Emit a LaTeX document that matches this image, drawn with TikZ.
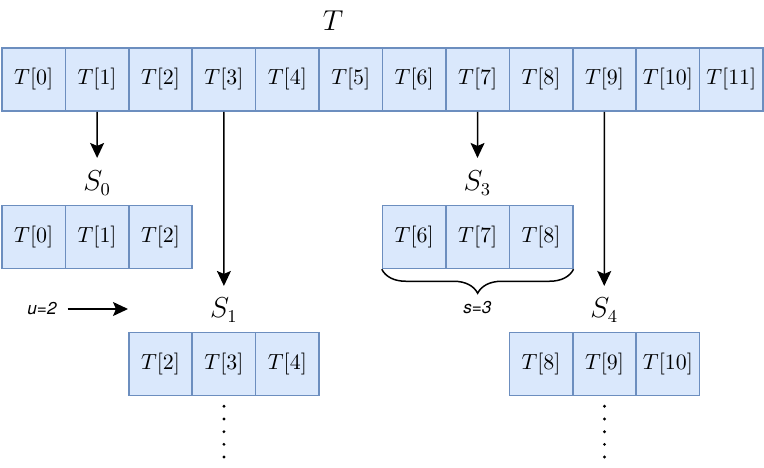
\documentclass[tikz,border=0pt]{standalone}
\usepackage{fontspec}
\newfontfamily\helv{TeX Gyre Heros}
\usetikzlibrary{arrows.meta,decorations.pathreplacing,calc}
\definecolor{cellfill}{HTML}{DAE8FC}
\definecolor{cellline}{HTML}{6C8EBF}
\begin{document}
\begin{tikzpicture}[x=0.5pt,y=-0.5pt,
		cell/.style={draw=cellline,fill=cellfill,line width=0.75pt,minimum width=31.7pt,minimum height=31.5pt,inner sep=0pt,font=\fontsize{10.8}{13}\selectfont},
		lbl/.style={font=\fontsize{13.5}{16}\selectfont},
		arr/.style={line width=0.75pt,-{Stealth[length=7.5pt,width=7pt,inset=1.5pt]}},
		note/.style={font=\helv\itshape\fontsize{8.6}{10}\selectfont}]
		\useasboundingbox (0,0) rectangle (764,467);
		\node[lbl] (tlbl) at (333,20.5) {$T$};
		\foreach \i in {0,...,11}
			\node[cell] (t\i) at (33.7+63.42*\i,79.5) {$T[\i]$};
		\foreach \i in {0,1,2}
			\node[cell] (sa\i) at (33.7+63.42*\i,237) {$T[\i]$};
		\foreach \i in {2,3,4}
			\node[cell] (sb\i) at (33.7+63.42*\i,364) {$T[\i]$};
		\foreach \i in {6,7,8}
			\node[cell] (sc\i) at (33.7+63.42*\i,237) {$T[\i]$};
		\foreach \i in {8,9,10}
			\node[cell] (sd\i) at (33.7+63.42*\i,364) {$T[\i]$};
		\node[lbl] (lsa) at (97.1,183) {$S_0$};
		\node[lbl] (lsb) at (223.9,310) {$S_1$};
		\node[lbl] (lsc) at (477.4,183) {$S_3$};
		\node[lbl] (lsd) at (604.2,310) {$S_4$};
		\draw[arr,shorten >=3pt] (t1.south) -- (lsa);
		\draw[arr,shorten >=2.5pt] (t3.south) -- (lsb);
		\draw[arr,shorten >=3pt] (t7.south) -- (lsc);
		\draw[arr,shorten >=2.5pt] (t9.south) -- (lsd);
		\node[note] (ulbl) at (42,309) {u=2};
		\coordinate (uend) at (128,309);
		\draw[arr] (ulbl.east) ++(4,0) -- (uend);
		\draw[decorate,decoration={brace,mirror,amplitude=12pt},line width=0.75pt] (sc6.south west) -- (sc8.south east);
		\node[note] (slbl) at (477.4,308) {s=3};
		\foreach \k in {0,...,4} {
			\fill ($(sb3.south)+(0,10+12.7*\k)$) circle (0.8pt);
			\fill ($(sd9.south)+(0,10+12.7*\k)$) circle (0.8pt);
		}
	\end{tikzpicture}
\end{document}
